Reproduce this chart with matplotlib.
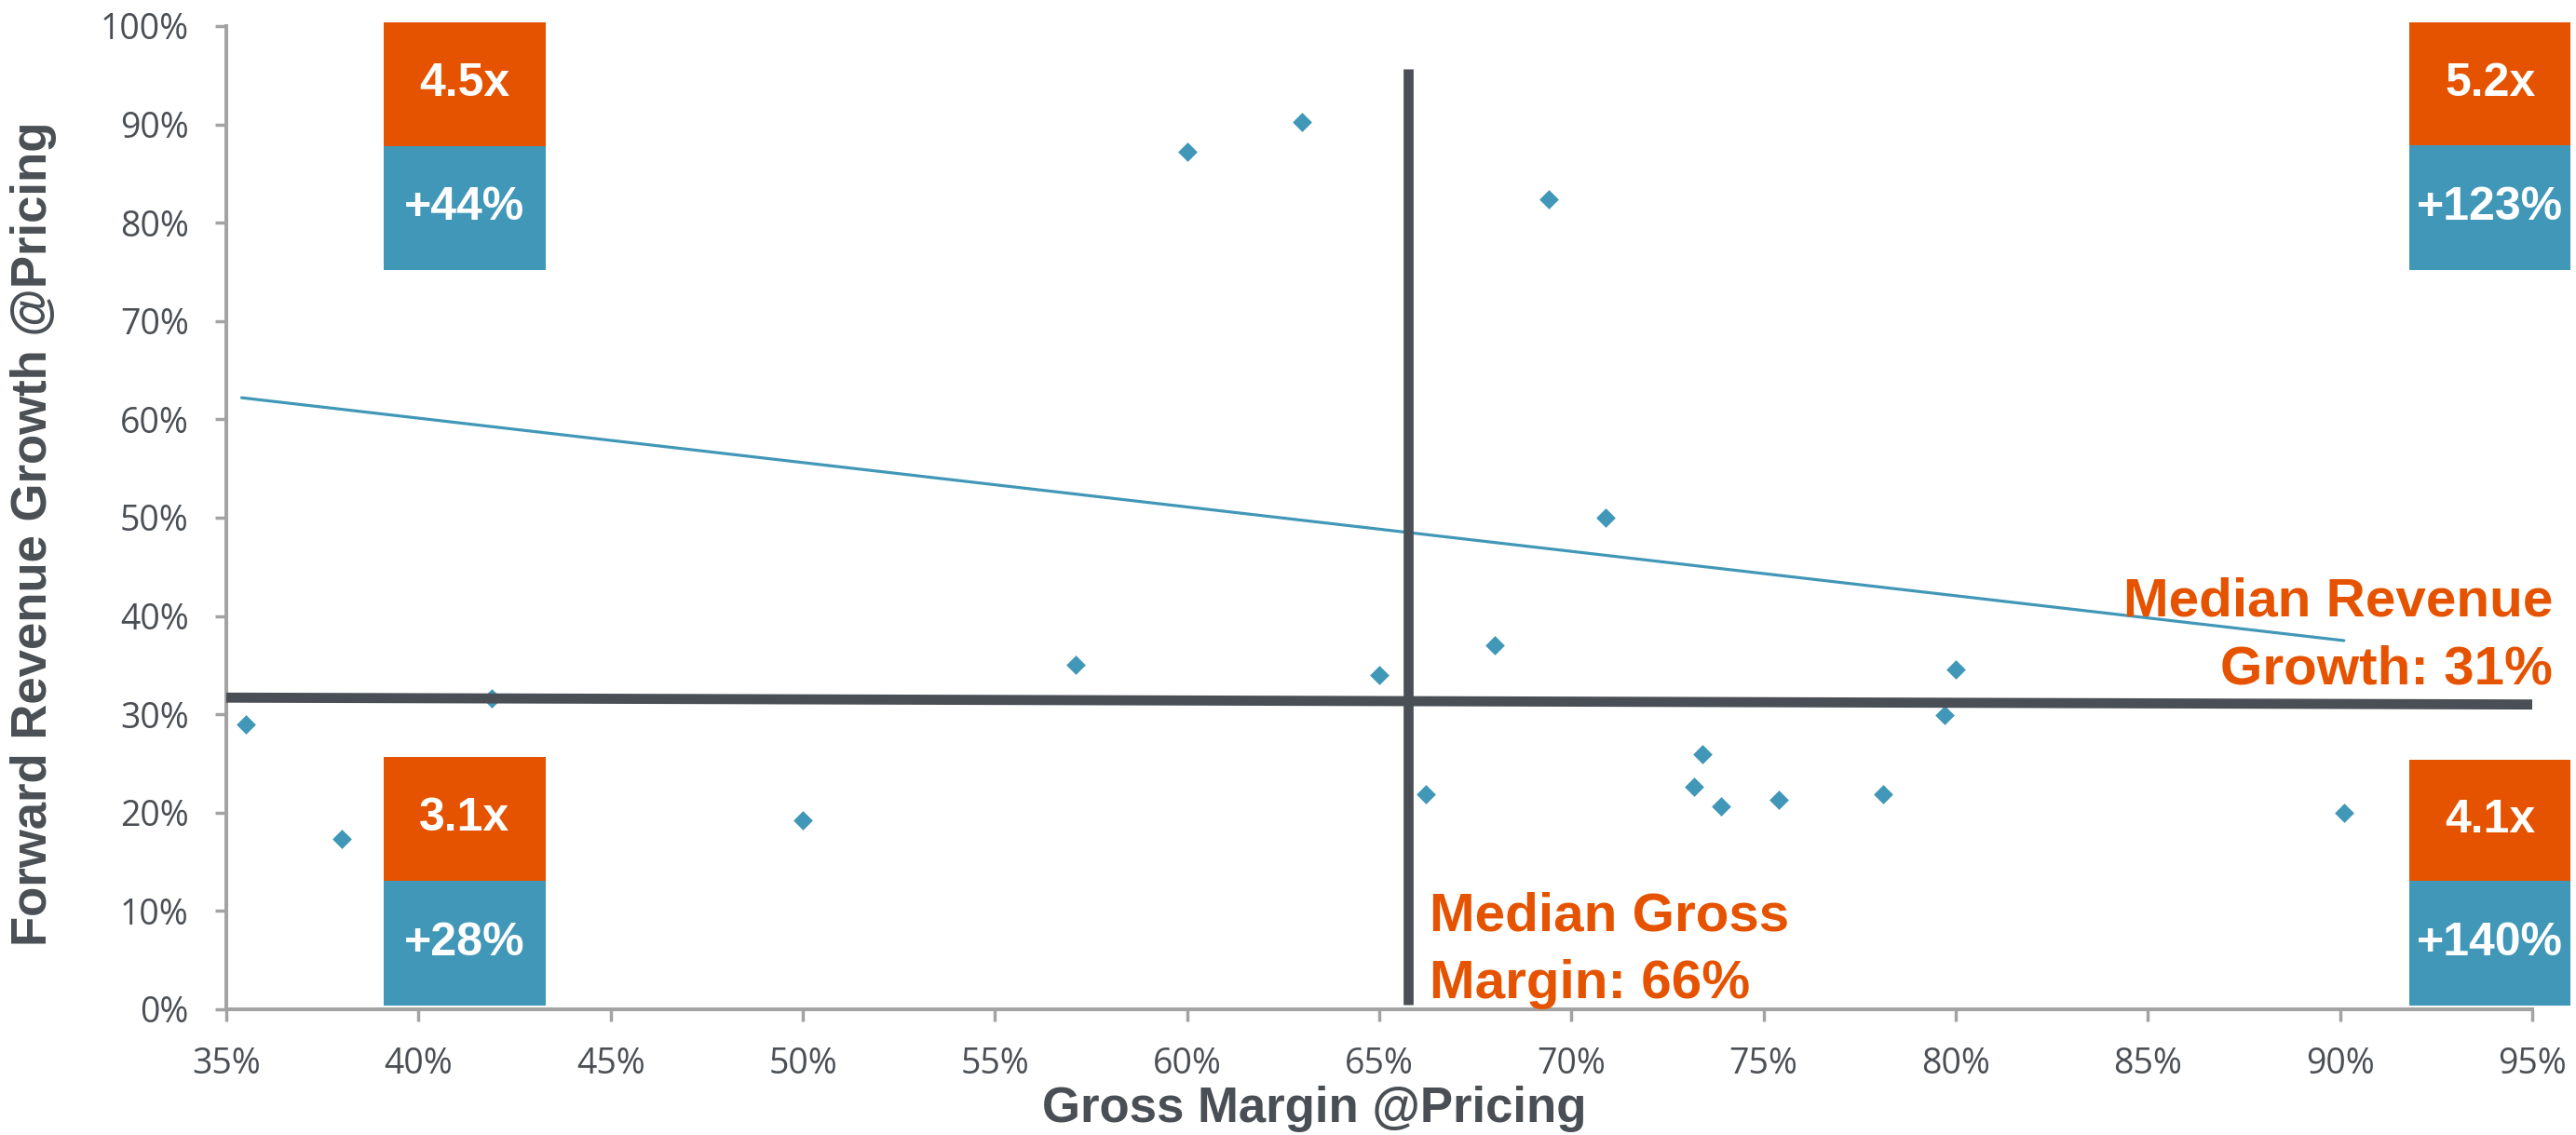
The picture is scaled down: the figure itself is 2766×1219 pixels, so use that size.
import matplotlib.pyplot as plt
from matplotlib.patches import Rectangle
from matplotlib.ticker import FuncFormatter

# gross margin vs forward revenue growth, both in %
gross_margin = [35.5, 38.0, 41.9, 50.0, 57.1, 60.0, 63.0, 65.0, 66.2, 68.0,
                69.4, 70.9, 73.2, 73.4, 73.9, 75.4, 78.1, 79.7, 80.0, 90.1]
revenue_growth = [29.0, 17.3, 31.6, 19.2, 35.0, 87.2, 90.2, 34.0, 21.9, 37.0,
                  82.4, 50.0, 22.6, 25.9, 20.6, 21.3, 21.9, 29.9, 34.6, 20.0]

# trend line end points
trend_x = [35.4, 90.1]
trend_y = [62.2, 37.5]

# median lines
median_growth_x = [35.0, 95.0]
median_growth_y = [31.7, 31.0]
median_margin_x = [65.76, 65.76]
median_margin_y = [0.5, 95.6]

x_ticks = [35, 40, 45, 50, 55, 60, 65, 70, 75, 80, 85, 90, 95]
y_ticks = [0, 10, 20, 30, 40, 50, 60, 70, 80, 90, 100]

# quadrant summaries: top-left, top-right, bottom-left, bottom-right
quad_multiple = ['4.5x', '5.2x', '3.1x', '4.1x']
quad_growth = ['+44%', '+123%', '+28%', '+140%']

# box layout per quadrant: (left, right, bottom, middle, top)
quad_boxes = [(39.1, 43.3, 75.2, 87.8, 100.4),
              (91.8, 96.0, 75.2, 87.9, 100.4),
              (39.1, 43.3, 0.4, 13.1, 25.7),
              (91.8, 96.0, 0.4, 13.1, 25.4)]

ORANGE = '#E55300'
TEAL = '#4197B7'
DARK = '#4A4F55'
AXIS = '#A3A3A3'

fig = plt.figure(figsize=(27.66, 12.19), dpi=100)
ax = fig.add_axes([243 / 2766, 1 - 1084 / 1219, 2476 / 2766, 1056 / 1219])

ax.plot(trend_x, trend_y, color=TEAL, lw=2.3, solid_capstyle='round', zorder=2)
ax.scatter(gross_margin, revenue_growth, marker='D', s=112, color=TEAL,
           linewidths=0, zorder=3)
ax.plot(median_growth_x, median_growth_y, color=DARK, lw=7.8,
        solid_capstyle='butt', zorder=4, clip_on=False)
ax.plot(median_margin_x, median_margin_y, color=DARK, lw=7.7,
        solid_capstyle='butt', zorder=4, clip_on=False)

# quadrant boxes
for (x0, x1, y0, ym, y1), mult, grow in zip(quad_boxes, quad_multiple, quad_growth):
    ax.add_patch(Rectangle((x0, ym), x1 - x0, y1 - ym, facecolor=ORANGE,
                           edgecolor='none', clip_on=False, zorder=5))
    ax.add_patch(Rectangle((x0, y0), x1 - x0, ym - y0, facecolor=TEAL,
                           edgecolor='none', clip_on=False, zorder=5))
    ax.text((x0 + x1) / 2, (ym + y1) / 2, mult, color='white', fontsize=36,
            fontweight='bold', family='Liberation Sans', ha='center',
            va='center', zorder=6)
    ax.text((x0 + x1) / 2, (y0 + ym) / 2, grow, color='white', fontsize=36,
            fontweight='bold', family='Liberation Sans', ha='center',
            va='center', zorder=6)

ax.text(95.54, 32.0, 'Median Revenue\nGrowth: 31%', color=ORANGE, fontsize=42,
        fontweight='bold', family='Liberation Sans', ha='right', va='bottom',
        linespacing=1.45, multialignment='right', zorder=6)
ax.text(66.3, 0.0, 'Median Gross\nMargin: 66%', color=ORANGE, fontsize=42,
        fontweight='bold', family='Liberation Sans', ha='left', va='bottom',
        linespacing=1.45, zorder=6)

ax.set_xlim(35, 95)
ax.set_ylim(0, 100)
ax.set_xticks(x_ticks)
ax.set_yticks(y_ticks)
pct = FuncFormatter(lambda v, p: f'{v:.0f}%')
ax.xaxis.set_major_formatter(pct)
ax.yaxis.set_major_formatter(pct)

for side in ['top', 'right']:
    ax.spines[side].set_visible(False)
for side in ['left', 'bottom']:
    ax.spines[side].set_color(AXIS)
    ax.spines[side].set_linewidth(2.9)
ax.tick_params(axis='both', direction='out', length=9, width=2.5,
               color=AXIS, pad=20, labelsize=27, labelcolor=DARK)
for lab in ax.get_xticklabels() + ax.get_yticklabels():
    lab.set_family('Open Sans')

ax.set_xlabel('Gross Margin @Pricing', fontsize=38, fontweight='bold',
              family='Liberation Sans', color=DARK)
ax.xaxis.set_label_coords(0.472, -0.0777)
ax.set_ylabel('Forward Revenue Growth @Pricing', fontsize=38,
              fontweight='bold', family='Liberation Sans', color=DARK)
ax.yaxis.set_label_coords(-0.0735, 0.484)

fig.savefig('out.png', dpi=100)
